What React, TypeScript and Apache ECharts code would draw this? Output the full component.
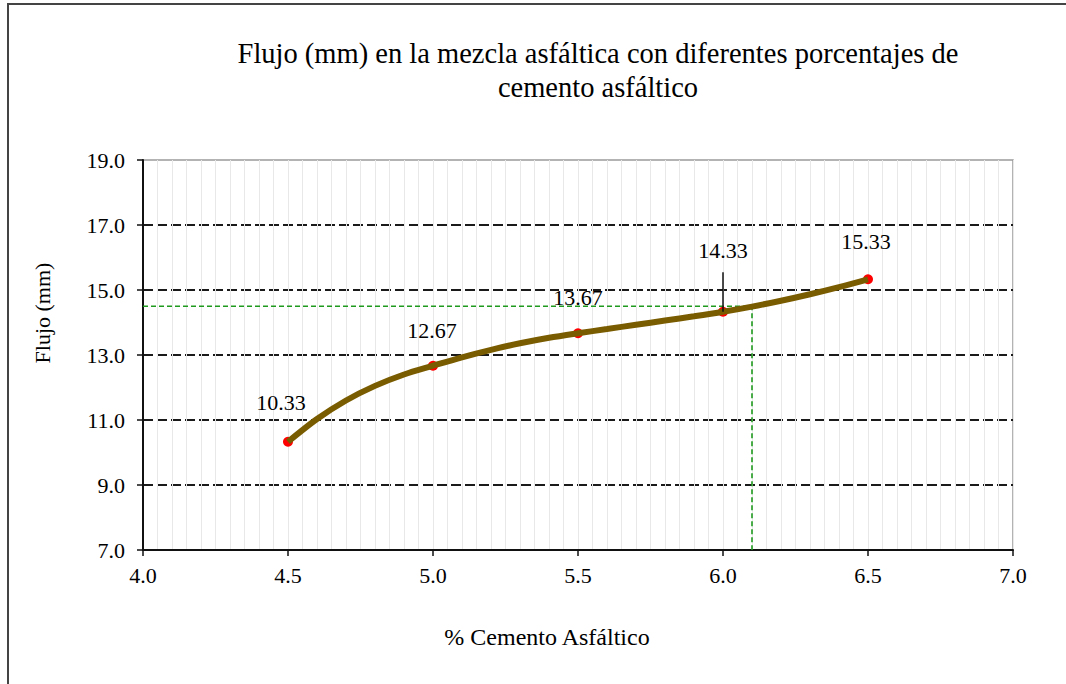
import React, { useEffect, useRef } from "react";
import * as echarts from "echarts";

// Asphalt content (%) and measured flow (mm)
const cementPct = [4.5, 5.0, 5.5, 6.0, 6.5];
const flowMm = [10.33, 12.67, 13.67, 14.33, 15.33];

// Fitted flow curve through the measured points
const trendPct = [4.5, 4.6, 4.7, 4.8, 4.9, 5.0, 5.1, 5.2, 5.3, 5.4, 5.5, 5.6, 5.7, 5.8, 5.9, 6.0, 6.1, 6.2, 6.3, 6.4, 6.5];
const trendFlow = [10.33, 11.03, 11.6, 12.05, 12.4, 12.67, 12.93, 13.16, 13.36, 13.53, 13.67, 13.8, 13.93, 14.06, 14.19, 14.33, 14.49, 14.67, 14.87, 15.09, 15.33];

// Optimum asphalt content and its flow, marked with guide lines
const optimumPct = 6.1;
const optimumFlow = 14.5;

// Value label offsets [dx, dy] per point
const labelOffsets: number[][] = [[-7, -3], [-1, 1], [0, 0], [0, -25], [-2, -2]];
// Leader line from the 6.0 % point up to its label
const leaderTopFlow = 15.55;

const xTicks = { min: 4.0, max: 7.0, interval: 0.5 };
const yTicks = { min: 7.0, max: 19.0, interval: 2.0 };

const SERIF = "'Times New Roman', 'Liberation Serif', serif";

export default function App() {
  const ref = useRef<HTMLDivElement>(null);

  useEffect(() => {
    document.body.style.margin = "0";
    if (!ref.current) return;
    const chart = echarts.init(ref.current, null, { renderer: "svg" });

    const points = cementPct.map((x, i) => [x, flowMm[i]]);
    const trend = trendPct.map((x, i) => [x, trendFlow[i]]);

    chart.setOption({
      animation: false,
      backgroundColor: "#ffffff",
      textStyle: { fontFamily: SERIF },
      title: {
        text: "Flujo (mm) en la mezcla asfáltica con diferentes porcentajes de\ncemento asfáltico",
        left: 593,
        top: 31,
        textAlign: "center",
        textStyle: {
          fontFamily: SERIF,
          fontSize: 28.5,
          fontWeight: "normal",
          color: "#000",
          lineHeight: 34,
        },
      },
      graphic: [
        {
          type: "rect",
          shape: { x: 8, y: 4, width: 1200, height: 900 },
          style: { fill: "none", stroke: "#444", lineWidth: 2 },
          silent: true,
          z: -1,
        },
      ],
      grid: {
        left: 143,
        right: 53,
        top: 160,
        bottom: 134,
        show: true,
        borderColor: "#9a9a9a",
        borderWidth: 1.5,
      },
      xAxis: {
        type: "value",
        min: xTicks.min,
        max: xTicks.max,
        interval: xTicks.interval,
        name: "% Cemento Asfáltico",
        nameLocation: "middle",
        nameGap: 75,
        nameTextStyle: { fontFamily: SERIF, fontSize: 24, color: "#000", padding: [0, 62, 0, 0] },
        axisLine: { show: true, lineStyle: { color: "#111", width: 2 } },
        axisTick: { show: true, inside: false, length: 6, lineStyle: { color: "#111", width: 1.5 } },
        minorTick: { show: false, splitNumber: 10 },
        axisLabel: {
          margin: 14,
          fontFamily: SERIF,
          fontSize: 22,
          color: "#000",
          formatter: (v: number) => v.toFixed(1),
        },
        splitLine: { show: true, lineStyle: { color: "#e8e8e8", width: 1 } },
        minorSplitLine: { show: true, lineStyle: { color: "#e8e8e8", width: 1 } },
      },
      yAxis: {
        type: "value",
        min: yTicks.min,
        max: yTicks.max,
        interval: yTicks.interval,
        name: "Flujo (mm)",
        nameLocation: "middle",
        nameGap: 90,
        nameTextStyle: { fontFamily: SERIF, fontSize: 22, color: "#000", padding: [0, 0, 0, 84] },
        axisLine: { show: true, lineStyle: { color: "#111", width: 2 } },
        axisTick: { show: true, inside: false, length: 6, lineStyle: { color: "#111", width: 1.5 } },
        axisLabel: {
          margin: 18,
          fontFamily: SERIF,
          fontSize: 22,
          color: "#000",
          formatter: (v: number) => v.toFixed(1),
        },
        splitLine: {
          show: true,
          showMinLine: false,
          showMaxLine: false,
          lineStyle: { color: "#1a1a1a", width: 2, type: [10, 4] },
        },
      },
      series: [
        {
          name: "guide",
          type: "line",
          data: [
            [xTicks.min, optimumFlow],
            [optimumPct, optimumFlow],
            [optimumPct, yTicks.min],
          ],
          showSymbol: false,
          symbol: "none",
          lineStyle: { color: "#1f9a1f", width: 1.6, type: [5, 3] },
          z: 1,
          silent: true,
        },
        {
          name: "points",
          type: "scatter",
          data: points.map((p, i) => ({
            value: p,
            label: { offset: labelOffsets[i] },
          })),
          symbol: "circle",
          symbolSize: 10,
          itemStyle: { color: "#ff0000", opacity: 1 },
          label: {
            show: true,
            position: "top",
            distance: 20,
            fontFamily: SERIF,
            fontSize: 22,
            color: "#000",
            opacity: 1,
            textBorderWidth: 0,
            formatter: (p: any) => p.value[1].toFixed(2),
          },
          markLine: {
            silent: true,
            symbol: "none",
            label: { show: false },
            lineStyle: { color: "#111", width: 1.5, type: "solid", opacity: 1 },
            data: [
              [
                { coord: [cementPct[3], flowMm[3]] },
                { coord: [cementPct[3], leaderTopFlow] },
              ],
            ],
          },
          z: 2,
        },
        {
          name: "Flujo",
          type: "line",
          data: trend,
          smooth: 0.3,
          showSymbol: false,
          symbol: "none",
          lineStyle: { color: "#7a5c00", width: 6 },
          z: 3,
          silent: true,
        },
      ],
    });

    return () => chart.dispose();
  }, []);

  return <div ref={ref} style={{ width: 1066, height: 684 }} />;
}
